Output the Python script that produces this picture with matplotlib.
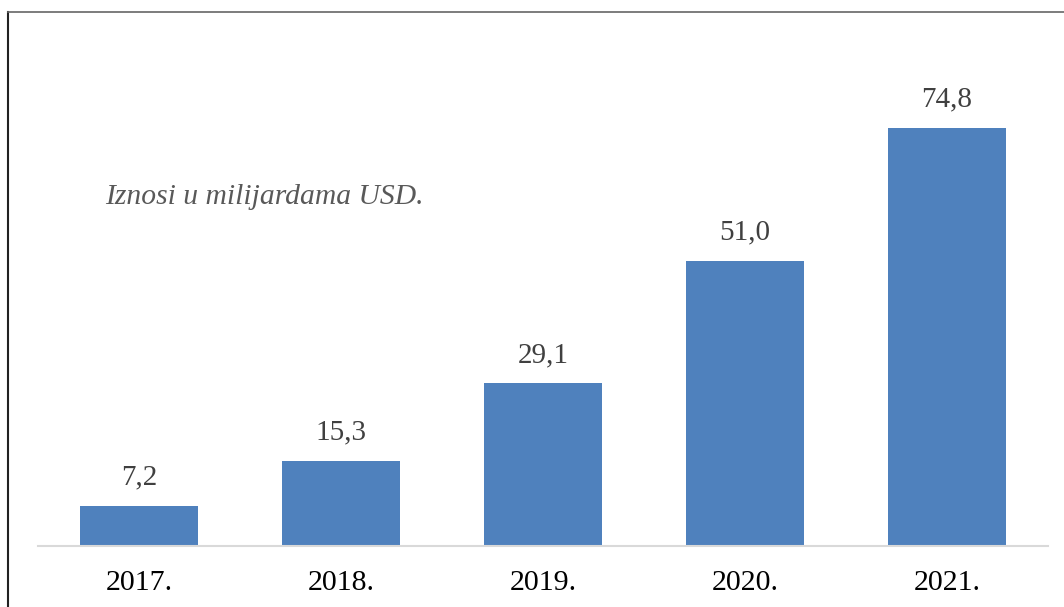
import matplotlib.pyplot as plt
from matplotlib.lines import Line2D

years = ["2017.", "2018.", "2019.", "2020.", "2021."]
values = [7.2, 15.3, 29.1, 51.0, 74.8]
value_labels = ["7,2", "15,3", "29,1", "51,0", "74,8"]
note = "Iznosi u milijardama USD."

BAR_COLOR = "#4F81BD"

plt.rcParams["font.family"] = ["Liberation Serif", "DejaVu Serif"]

fig = plt.figure(figsize=(10.64, 6.07), dpi=100)
W, H = 1064, 607
ax = fig.add_axes([38 / W, 61 / H, 1010 / W, 447 / H])

x = range(len(years))
ax.bar(x, values, width=0.584, color=BAR_COLOR, zorder=2)
for xi, v, lab in zip(x, values, value_labels):
    ax.annotate(lab, (xi, v), xytext=(0, 11), textcoords="offset points",
                ha="center", va="bottom", fontsize=21, color="#404040")

ax.set_xlim(-0.5, len(years) - 0.5)
ax.set_ylim(0, 80)
ax.set_xticks(list(x))
ax.set_xticklabels(years, fontsize=21.5, color="black")
ax.tick_params(axis="x", length=0, pad=17)
ax.set_yticks([])
for s in ["top", "right", "left"]:
    ax.spines[s].set_visible(False)
ax.spines["bottom"].set_color("#d9d9d9")
ax.spines["bottom"].set_linewidth(1.5)

fig.text(105 / W, 1 - 197 / H, note, fontsize=21.3, style="italic",
         color="#595959", ha="left", va="center")

# outer frame (top and left edges)
fig.add_artist(Line2D([8 / W, 8 / W], [0, 1 - 12 / H], transform=fig.transFigure,
                      color="#222222", linewidth=1.5))
fig.add_artist(Line2D([8 / W, 1], [1 - 12 / H, 1 - 12 / H], transform=fig.transFigure,
                      color="#666666", linewidth=1.2))

fig.savefig("out.png", dpi=100)
